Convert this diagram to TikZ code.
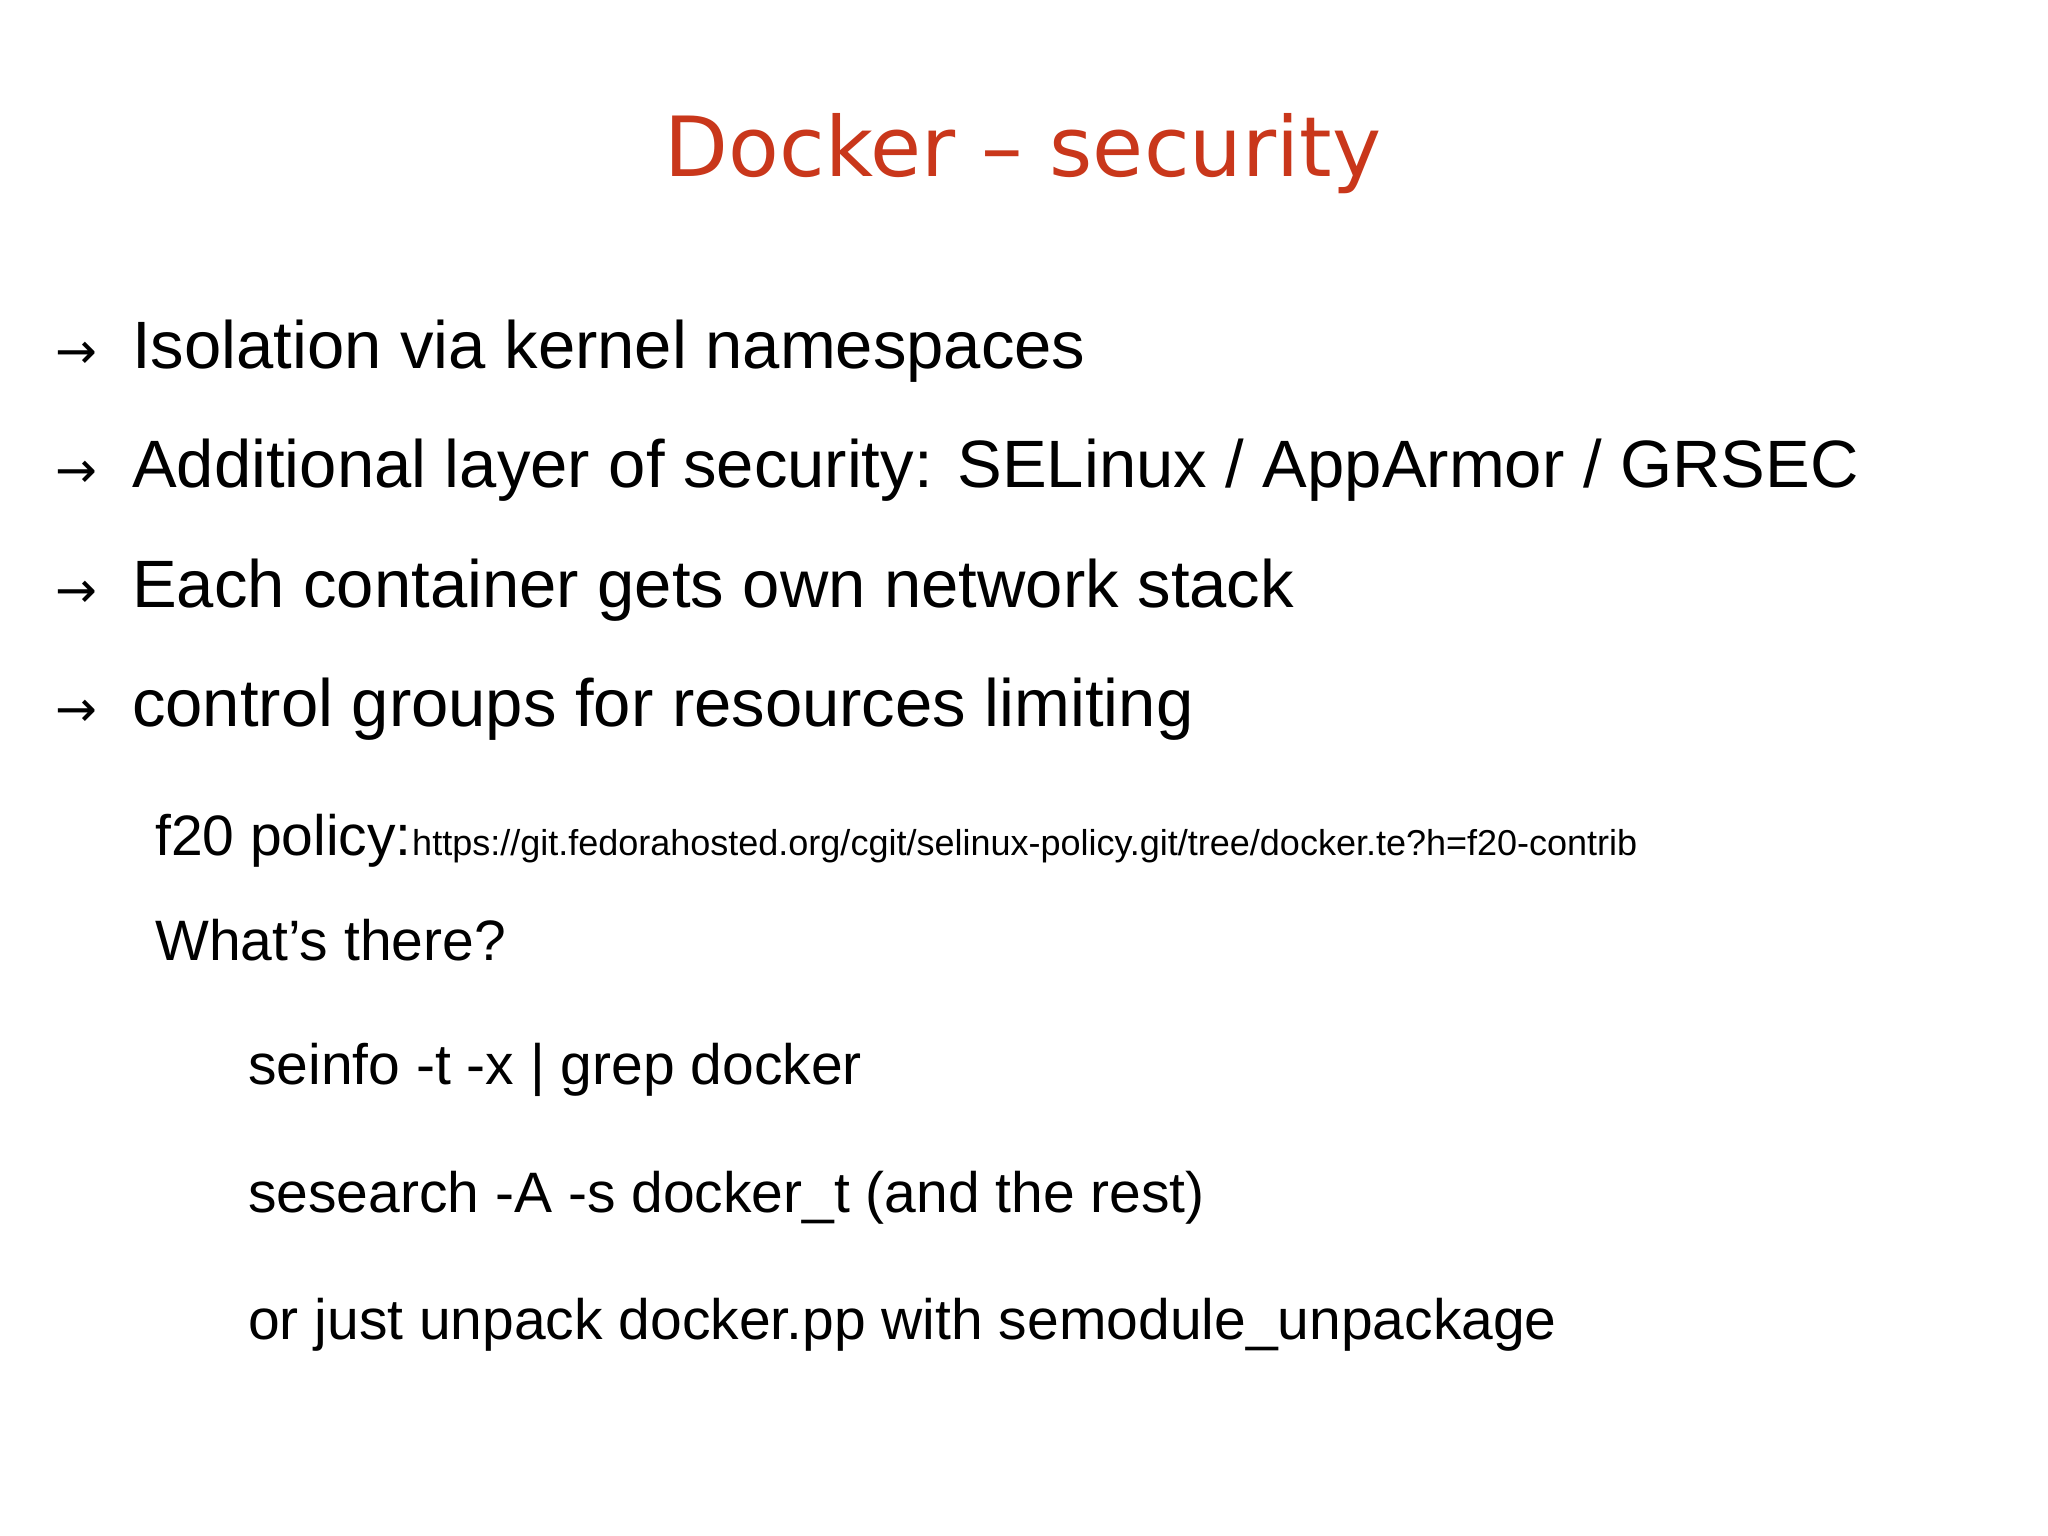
\documentclass[tikz,border=0pt]{standalone}
\usepackage{fontspec}
\setmainfont{Liberation Sans}
\newfontfamily\titlefont{DejaVu Sans}
\definecolor{titlecol}{HTML}{C9371B}
\begin{document}
\begin{tikzpicture}[x=1pt,y=-1pt,
  txt/.style={anchor=base west,inner sep=0pt,text=black},
  big/.style={txt,font=\fontsize{67}{72}\selectfont},
  arr/.style={txt,font=\titlefont\fontsize{50}{56}\selectfont},
  mid/.style={txt,font=\fontsize{57}{62}\selectfont},
  sub/.style={txt,font=\fontsize{57}{62}\selectfont}]
\useasboundingbox[fill=white] (0,0) rectangle (2048,1535);
\node[anchor=base,inner sep=0pt,text=titlecol,font=\titlefont\fontsize{83}{90}\selectfont] (title) at (1023,176) {Docker – security};
\foreach \y/\t [count=\i] in {368/{Isolation via kernel namespaces},487/{Additional layer of security: SELinux / AppArmor / GRSEC},607/{Each container gets own network stack},726/{control groups for resources limiting}}{
  \node[arr] (a\i) at (55,\y) {→};
  \node[big] (b\i) at (132,\y) {\t};
}
\node[mid] (f20) at (155,855) {f20 policy:\ };
\node[txt,font=\fontsize{36}{40}\selectfont] (url) at (f20.base east) {https://git.fedorahosted.org/cgit/selinux-policy.git/tree/docker.te?h=f20-contrib};
\node[mid] (what) at (155,960) {What\symbol{39}s there?};
\node[sub] (s1) at (248,1084) {seinfo -t -x | grep docker};
\node[sub] (s2) at (248,1212) {sesearch -A -s docker\_t (and the rest)};
\node[sub] (s3) at (248,1339) {or just unpack docker.pp with semodule\_unpackage};
\end{tikzpicture}
\end{document}
